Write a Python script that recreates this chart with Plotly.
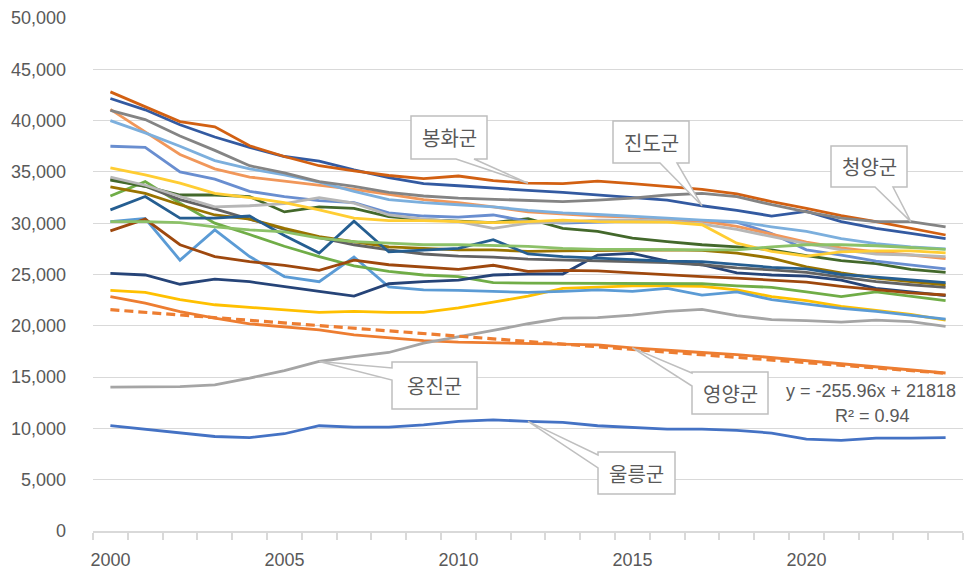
import numpy as np
import plotly.graph_objects as go

# ---- data ----
YEARS = list(range(2000, 2025))

ULLEUNG = [10260, 9930, 9600, 9210, 9110, 9480, 10260, 10130, 10130, 10350, 10680, 10840, 10680,
           10580, 10260, 10130, 9930, 9930, 9800, 9550, 8960, 8830, 9060, 9060, 9110]
YEONGYANG = [22850, 22210, 21390, 20750, 20190, 19930, 19610, 19120, 18800, 18550, 18400, 18330, 18330,
             18250, 18150, 17850, 17600, 17400, 17200, 16900, 16600, 16300, 16000, 15700, 15400]
ONGJIN = [14020, 14020, 14080, 14250, 14900, 15640, 16520, 17000, 17400, 18310, 18900, 19550, 20200,
          20750, 20800, 21050, 21400, 21600, 21000, 20600, 20500, 20350, 20550, 20400, 19950]
S04 = [23450, 23250, 22550, 22050, 21800, 21550, 21300, 21400, 21300, 21300, 21750, 22300, 22900,
       23650, 23800, 23900, 23900, 23850, 23500, 22850, 22450, 21900, 21500, 21100, 20550]
S05 = [30150, 30450, 26400, 29350, 26750, 24800, 24300, 26700, 23800, 23500, 23450, 23350, 23250,
       23350, 23500, 23350, 23650, 23000, 23300, 22550, 22150, 21700, 21400, 21050, 20650]
S06 = [32650, 34050, 31950, 30000, 28900, 27750, 26750, 25850, 25300, 24950, 24800, 24200, 24150,
       24150, 24150, 24150, 24150, 24100, 23900, 23750, 23300, 22850, 23300, 22900, 22450]
S07 = [25100, 24950, 24050, 24550, 24300, 23800, 23350, 22900, 24100, 24300, 24450, 24950, 25050,
       25050, 26900, 27050, 26300, 25950, 25150, 24950, 24850, 24450, 23650, 23300, 22950]
S08 = [29250, 30400, 27900, 26750, 26250, 25900, 25400, 26400, 25950, 25700, 25500, 25900, 25300,
       25400, 25350, 25150, 24950, 24800, 24650, 24450, 24250, 23850, 23500, 23200, 23000]
S09 = [34300, 33600, 32300, 31400, 30400, 29400, 28600, 27900, 27400, 27000, 26800, 26700, 26500,
       26400, 26350, 26250, 26150, 25950, 25650, 25450, 25200, 24750, 24300, 24000, 23750]
S10 = [33550, 32900, 31800, 30800, 30400, 29500, 28700, 28200, 27700, 27550, 27400, 27400, 27250,
       27300, 27350, 27400, 27400, 27350, 27080, 26600, 25750, 25150, 24650, 24300, 24000]
S11 = [31300, 32600, 30500, 30500, 30700, 28800, 27100, 30200, 27200, 27400, 27550, 28400, 27000,
       26750, 26600, 26450, 26300, 26250, 25950, 25700, 25550, 25000, 24750, 24500, 24200]
S12 = [34200, 33600, 32750, 32750, 32600, 31100, 31600, 31450, 30650, 30350, 30200, 30050, 30450,
       29500, 29200, 28550, 28200, 27900, 27700, 27400, 26850, 26350, 26050, 25500, 25200]
S13 = [37500, 37400, 35000, 34300, 33100, 32600, 32200, 32000, 31000, 30700, 30600, 30800, 30200,
       30000, 30100, 30200, 30200, 30200, 30100, 29000, 27400, 26900, 26300, 25900, 25550]
S14 = [41100, 38900, 36700, 35300, 34500, 34100, 33700, 33300, 32800, 32300, 32000, 31600, 31100,
       30900, 30700, 30600, 30400, 30200, 29700, 28900, 28150, 27600, 27200, 26900, 26550]
S15 = [34500, 33700, 32600, 31600, 31700, 31900, 32500, 31950, 30800, 30400, 30150, 29500, 30000,
       30100, 30300, 30300, 30200, 29900, 29400, 28700, 28000, 27400, 27000, 26900, 26750]
S16 = [35400, 34700, 33900, 32900, 32500, 32000, 31300, 30500, 30250, 30250, 30150, 30050, 30150,
       30300, 30150, 30150, 30100, 29850, 28050, 27250, 26800, 27200, 27300, 27300, 27100]
S17 = [40000, 38800, 37500, 36100, 35300, 34700, 34000, 33100, 32300, 32000, 31800, 31600, 31250,
       31000, 30850, 30700, 30500, 30300, 30150, 29650, 29200, 28500, 28000, 27700, 27500]
S18 = [30150, 30150, 30050, 29650, 29350, 29150, 28550, 28200, 28050, 27900, 27900, 27800, 27750,
       27550, 27450, 27450, 27400, 27400, 27400, 27700, 27900, 27900, 27800, 27650, 27450]
JINDO = [42150, 41050, 39600, 38400, 37400, 36500, 36050, 35200, 34450, 33850, 33650, 33400, 33200,
         33000, 32750, 32550, 32250, 31700, 31250, 30700, 31150, 30150, 29500, 29000, 28500]
BONGHWA = [42800, 41350, 39900, 39400, 37550, 36500, 35600, 35100, 34650, 34350, 34600, 34150, 33900,
           33850, 34100, 33850, 33550, 33300, 32850, 32100, 31450, 30750, 30150, 29500, 28850]
CHEONGYANG = [41000, 40100, 38500, 37100, 35600, 34900, 34050, 33600, 33000, 32650, 32450, 32350, 32250,
              32100, 32250, 32450, 32750, 32900, 32600, 31800, 31100, 30500, 30150, 30150, 29650]

SERIES = [
    ("울릉군", ULLEUNG, "#4472C4"),
    ("영양군", YEONGYANG, "#ED7D31"),
    ("옹진군", ONGJIN, "#A5A5A5"),
    ("계열4", S04, "#FFC000"),
    ("계열5", S05, "#5B9BD5"),
    ("계열6", S06, "#70AD47"),
    ("계열7", S07, "#264478"),
    ("계열8", S08, "#9E480E"),
    ("계열9", S09, "#636363"),
    ("계열10", S10, "#997300"),
    ("계열11", S11, "#255E91"),
    ("계열12", S12, "#43682B"),
    ("계열13", S13, "#698ED0"),
    ("계열14", S14, "#F1975A"),
    ("계열15", S15, "#B7B7B7"),
    ("계열16", S16, "#FFCD33"),
    ("계열17", S17, "#7CAFDD"),
    ("계열18", S18, "#8CC168"),
    ("진도군", JINDO, "#335AA1"),
    ("봉화군", BONGHWA, "#D26012"),
    ("청양군", CHEONGYANG, "#848484"),
]

TREND_LABEL = "y = -255.96x + 21818"
R2_LABEL = "R² = 0.94"

# ---- layout geometry ----
W, H = 971, 571
M = dict(l=93, r=8, t=18, b=40, autoexpand=False)
X_RANGE = [1999.5, 2024.5]
Y_RANGE = [0, 50000]
GREY_TXT = "#595959"


def px_to_data(px, py):
    pw = W - M["l"] - M["r"]
    ph = H - M["t"] - M["b"]
    x = X_RANGE[0] + (px - M["l"]) / pw * (X_RANGE[1] - X_RANGE[0])
    y = Y_RANGE[1] - (py - M["t"]) / ph * (Y_RANGE[1] - Y_RANGE[0])
    return x, y


# callout boxes: (series name, tip year, box px (x0, y0, x1, y1), wedge side, wedge base px)
CALLOUTS = [
    ("봉화군", 2012, (411, 116, 487, 159), "bottom", (456, 474)),
    ("진도군", 2017, (613, 121, 689, 163), "bottom", (660, 677)),
    ("청양군", 2023, (831, 146, 907, 187), "bottom", (875, 893)),
    ("옹진군", 2006, (392, 362, 477, 409), "left", (368, 380)),
    ("영양군", 2015, (692, 372, 768, 414), "left", (373, 386)),
    ("울릉군", 2012, (598, 452, 675, 494), "left", (455, 468)),
]

fig = go.Figure()
for name, vals, color in SERIES:
    fig.add_trace(go.Scatter(x=YEARS, y=vals, mode="lines", name=name,
                             line=dict(color=color, width=2.8)))

# linear trendline for 영양군 (Excel style, x = 1..n)
idx = np.arange(1, len(YEARS) + 1)
slope, intercept = np.polyfit(idx, YEONGYANG, 1)
fig.add_trace(go.Scatter(x=YEARS, y=slope * idx + intercept, mode="lines", name="선형 (영양군)",
                         line=dict(color="#ED7D31", width=3.2, dash="9px,5px")))

lookup = {name: vals for name, vals, _ in SERIES}
for name, year, (x0, y0, x1, y1), side, (a, b) in CALLOUTS:
    tip = (year, lookup[name][YEARS.index(year)])
    if side == "bottom":
        pts = [(x0, y0), (x1, y0), (x1, y1), (b, y1), None, (a, y1), (x0, y1)]
    else:
        pts = [(x0, y0), (x1, y0), (x1, y1), (x0, y1), (x0, b), None, (x0, a)]
    coords = [tip if p is None else px_to_data(*p) for p in pts]
    path = "M " + " L ".join(f"{cx},{cy}" for cx, cy in coords) + " Z"
    fig.add_shape(type="path", path=path, xref="x", yref="y", layer="above",
                  fillcolor="white", line=dict(color="#BFBFBF", width=1.5))
    cx, cy = px_to_data((x0 + x1) / 2, (y0 + y1) / 2)
    fig.add_annotation(x=cx, y=cy, text=name, showarrow=False, xref="x", yref="y",
                       font=dict(family="Noto Sans CJK KR", size=20, color=GREY_TXT))

for label, (px, py) in [(TREND_LABEL, (871, 391)), (R2_LABEL, (872, 416))]:
    tx, ty = px_to_data(px, py)
    fig.add_annotation(x=tx, y=ty, text=label, showarrow=False, xref="x", yref="y",
                       font=dict(family="Liberation Sans", size=18, color=GREY_TXT))

fig.update_layout(
    width=W, height=H,
    margin=M,
    paper_bgcolor="white", plot_bgcolor="white",
    showlegend=False,
    font=dict(family="Liberation Sans", size=18, color=GREY_TXT),
)
fig.update_xaxes(
    range=X_RANGE, tickvals=[2000, 2005, 2010, 2015, 2020], automargin=False,
    showgrid=False, zeroline=False,
    showline=True, linecolor="#D9D9D9", linewidth=1.5,
    ticks="outside", ticklen=7, tickcolor="rgba(0,0,0,0)", ticklabelstandoff=5,
    minor=dict(tick0=1999.5, dtick=1, ticks="outside", ticklen=7, tickcolor="#D9D9D9",
               tickwidth=1.5, showgrid=False),
    tickfont=dict(size=18, color=GREY_TXT),
)
fig.update_yaxes(
    range=Y_RANGE, dtick=5000, tickformat=",d", automargin=False,
    showgrid=True, gridcolor="#D9D9D9", gridwidth=1.3,
    zeroline=False, showline=False, ticks="", ticklabelstandoff=26,
    tickfont=dict(size=18, color=GREY_TXT),
)

# the page body has a default 8px margin; drop it so the figure sits at the window origin
fig.write_html("out.html", config={"displayModeBar": False},
               post_script="document.body.style.margin = '0';")
